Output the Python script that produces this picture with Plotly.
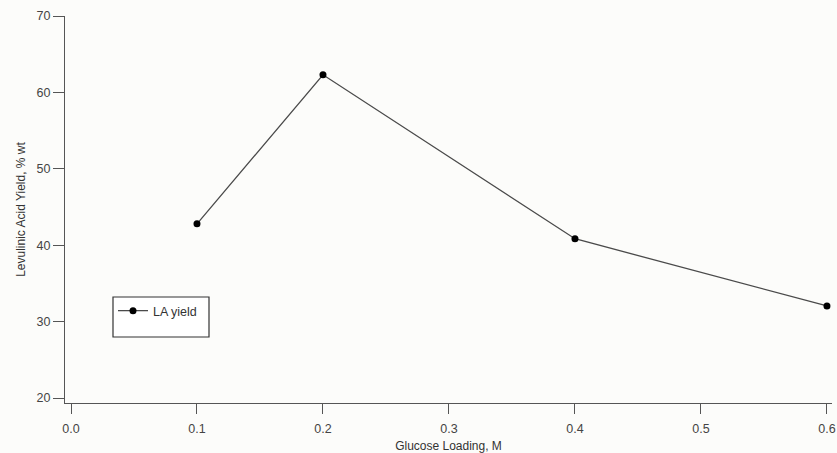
import plotly.graph_objects as go

glucose_loading = [0.1, 0.2, 0.4, 0.6]
la_yield = [42.8, 62.3, 40.85, 32.05]
x_ticks = [0.0, 0.1, 0.2, 0.3, 0.4, 0.5, 0.6]
x_tick_labels = ["0.0", "0.1", "0.2", "0.3", "0.4", "0.5", "0.6"]
y_ticks = [20, 30, 40, 50, 60, 70]

font_family = "Liberation Sans, Arial, sans-serif"

# plot area in pixels (for positioning legend box)
PL, PR, PT, PB = 65, 832, 16, 403

def px_x(p):
    return (p - PL) / (PR - PL)

def px_y(p):
    return 1 - (p - PT) / (PB - PT)

fig = go.Figure()
fig.add_trace(go.Scatter(
    x=glucose_loading, y=la_yield, mode="lines+markers", name="LA yield",
    line=dict(color="#4a4a4a", width=1.3),
    marker=dict(color="#000000", size=7),
))

fig.add_shape(
    type="rect", xref="paper", yref="paper",
    x0=px_x(113), x1=px_x(209), y0=px_y(337), y1=px_y(297),
    line=dict(color="#333333", width=1.2), fillcolor="#ffffff", layer="below",
)

fig.update_layout(
    width=837, height=453,
    margin=dict(l=PL, r=837 - PR, t=PT, b=453 - PB, autoexpand=False),
    paper_bgcolor="#fcfcfa", plot_bgcolor="#fcfcfa",
    font=dict(family=font_family, size=12, color="#3a3a3a"),
    showlegend=True,
    legend=dict(
        x=px_x(113), y=px_y(296),
        xanchor="left", yanchor="top",
        bgcolor="rgba(0,0,0,0)", borderwidth=0,
        font=dict(size=12.5, color="#333333"),
    ),
    xaxis=dict(
        range=[-0.00476, 0.604], tickvals=x_ticks, ticktext=x_tick_labels,
        automargin=False,
        showgrid=False, zeroline=False, showline=True, linecolor="#555555", linewidth=1.3,
        ticks="outside", ticklen=10, tickcolor="#555555", tickwidth=1.3,
        ticklabelstandoff=4,
        tickfont=dict(size=12.5, color="#444444"),
        title=dict(text="Glucose Loading, M", font=dict(size=12, color="#333333"), standoff=7),
    ),
    yaxis=dict(
        range=[19.35, 70], tickvals=y_ticks,
        automargin=False,
        showgrid=False, zeroline=False, showline=True, linecolor="#555555", linewidth=1.3,
        ticks="outside", ticklen=11, tickcolor="#555555", tickwidth=1.3,
        tickfont=dict(size=12.5, color="#444444"),
        title=dict(text="Levulinic Acid Yield, % wt", font=dict(size=12, color="#333333"), standoff=8),
    ),
)

fig.write_html("out.html")
